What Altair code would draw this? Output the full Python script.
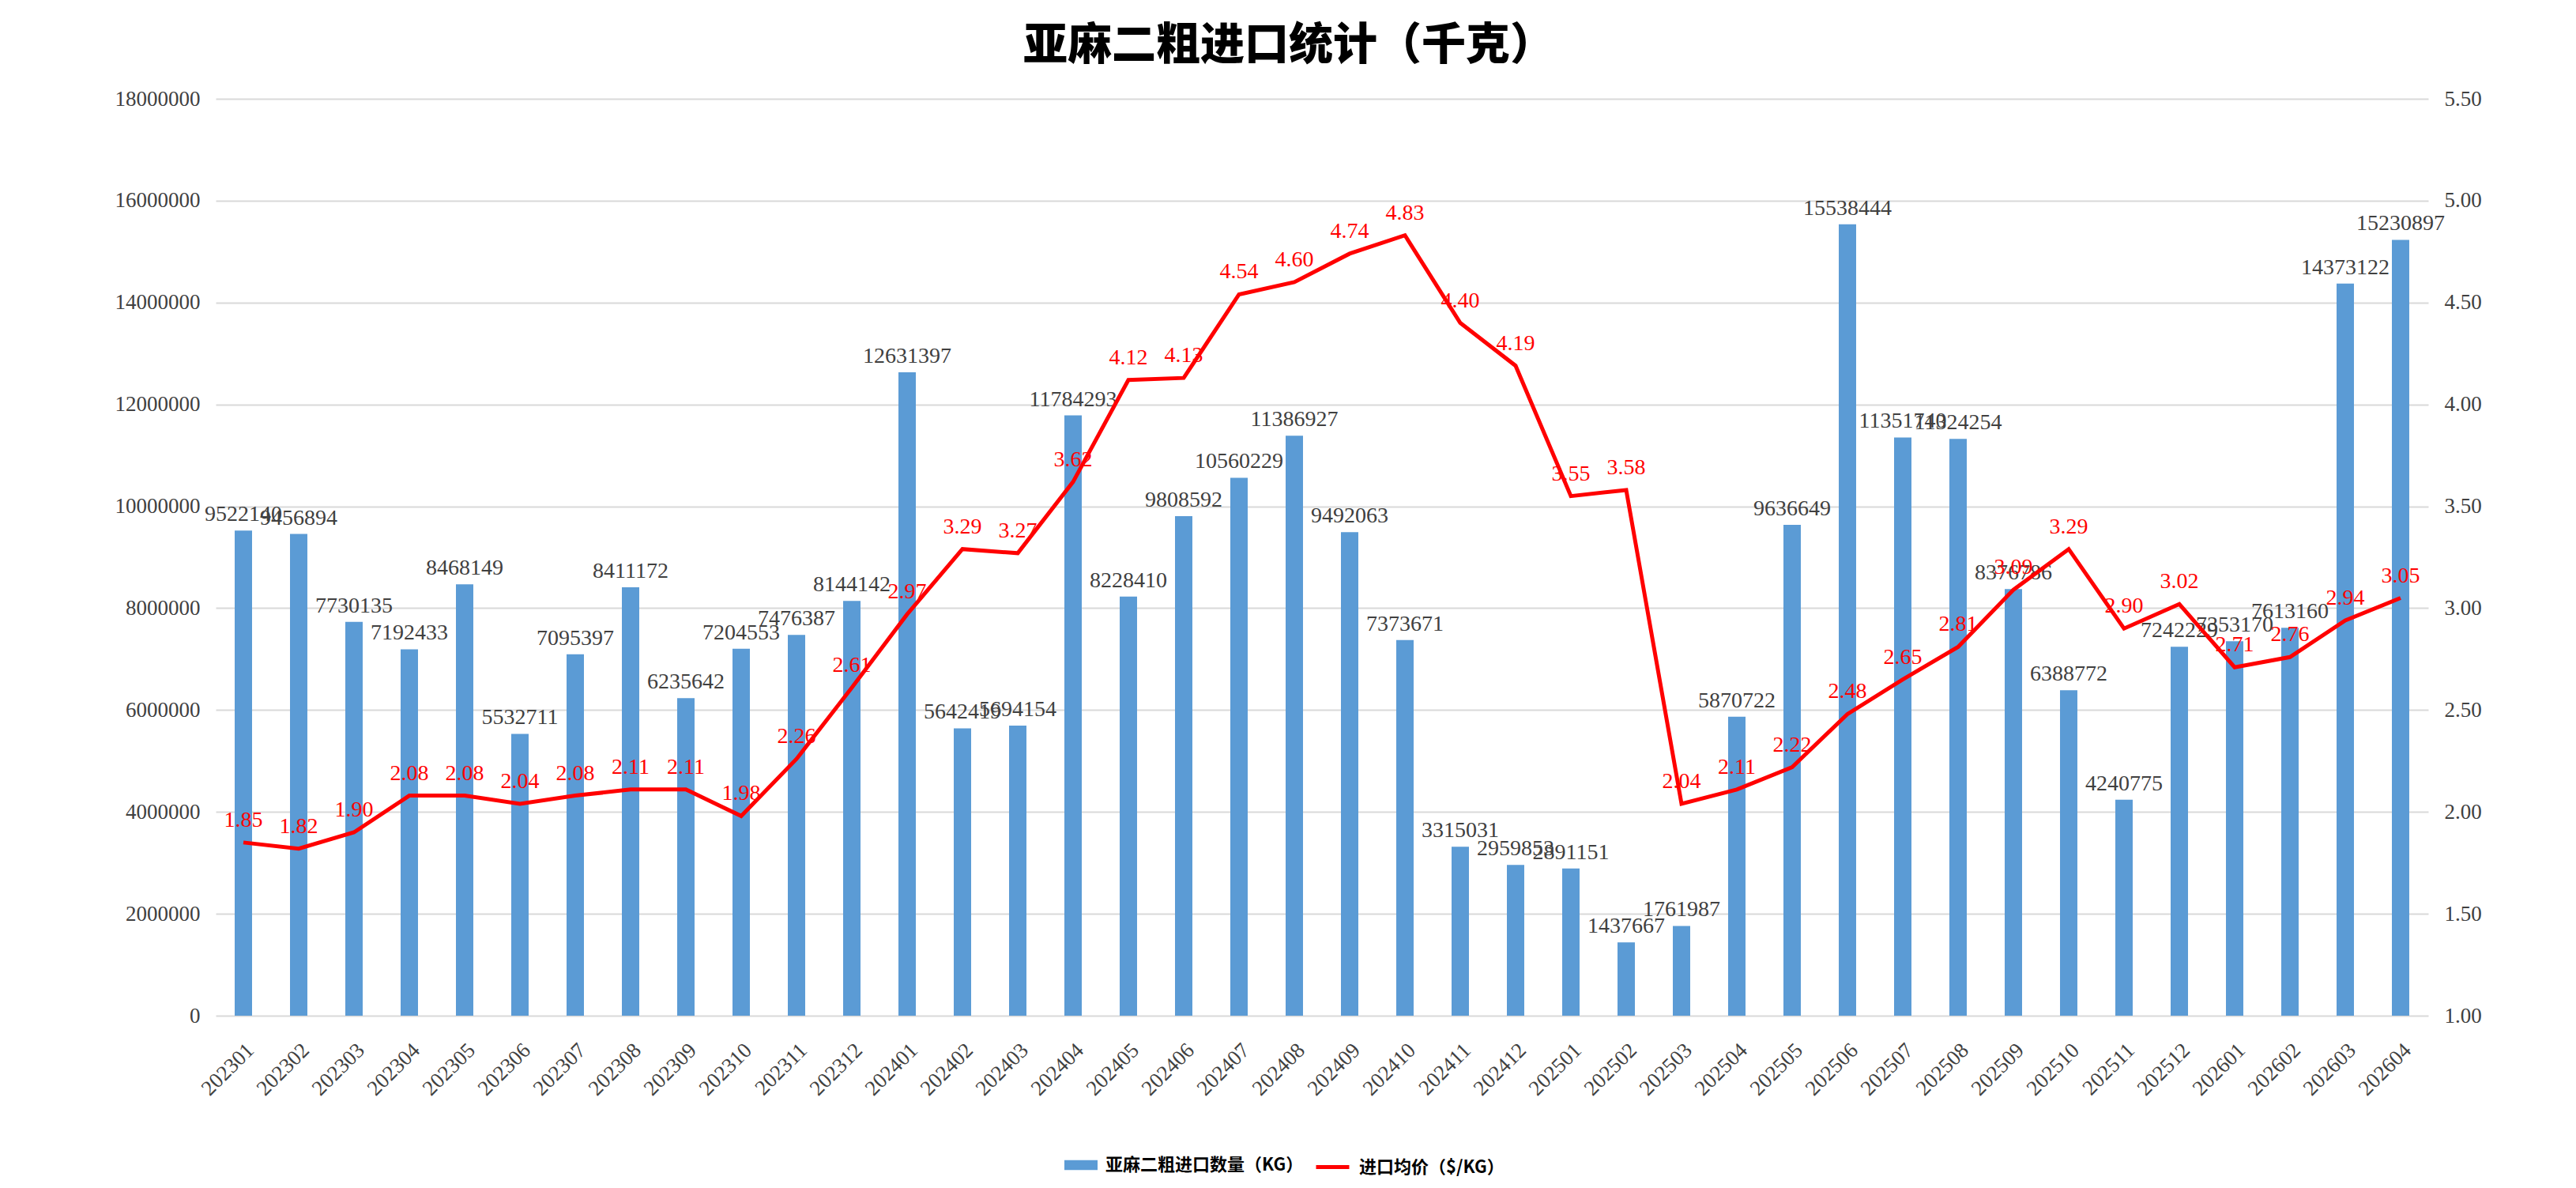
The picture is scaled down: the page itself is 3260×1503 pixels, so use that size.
import altair as alt
import pandas as pd

months = [
    "202301", "202302", "202303", "202304", "202305", "202306", "202307", "202308",
    "202309", "202310", "202311", "202312", "202401", "202402", "202403", "202404",
    "202405", "202406", "202407", "202408", "202409", "202410", "202411", "202412",
    "202501", "202502", "202503", "202504", "202505", "202506", "202507", "202508",
    "202509", "202510", "202511", "202512", "202601", "202602", "202603", "202604",
]
quantity = [
    9522140, 9456894, 7730135, 7192433, 8468149, 5532711, 7095397, 8411172,
    6235642, 7204553, 7476387, 8144142, 12631397, 5642419, 5694154, 11784293,
    8228410, 9808592, 10560229, 11386927, 9492063, 7373671, 3315031, 2959853,
    2891151, 1437667, 1761987, 5870722, 9636649, 15538444, 11351740, 11324254,
    8376786, 6388772, 4240775, 7242229, 7353170, 7613160, 14373122, 15230897,
]
price = [
    1.85, 1.82, 1.90, 2.08, 2.08, 2.04, 2.08, 2.11,
    2.11, 1.98, 2.26, 2.61, 2.97, 3.29, 3.27, 3.62,
    4.12, 4.13, 4.54, 4.60, 4.74, 4.83, 4.40, 4.19,
    3.55, 3.58, 2.04, 2.11, 2.22, 2.48, 2.65, 2.81,
    3.09, 3.29, 2.90, 3.02, 2.71, 2.76, 2.94, 3.05,
]
qty_ticks = [0, 2000000, 4000000, 6000000, 8000000, 10000000, 12000000, 14000000, 16000000, 18000000]
price_ticks = [1.00, 1.50, 2.00, 2.50, 3.00, 3.50, 4.00, 4.50, 5.00, 5.50]

qty_name = "亚麻二粗进口数量（KG）"
price_name = "进口均价（$/KG）"

df = pd.DataFrame({"month": months, "quantity": quantity, "price": price})
df["qty_series"] = qty_name
df["price_series"] = price_name

num_font = "Liberation Serif"
cjk_font = "Noto Sans CJK SC"

x = alt.X(
    "month:N", sort=months, title=None,
    scale=alt.Scale(paddingInner=0.686, paddingOuter=0.343),
    axis=alt.Axis(labelAngle=-45, labelFont=num_font, labelFontSize=27, labelColor="#404040",
                  domain=False, ticks=False, labelPadding=30),
)
y_qty = alt.Y(
    "quantity:Q", title=None,
    scale=alt.Scale(domain=[0, 18000000], nice=False),
    axis=alt.Axis(values=qty_ticks, format="d", grid=True, gridColor="#D9D9D9", gridWidth=2,
                  domain=False, ticks=False, labelFont=num_font, labelFontSize=27,
                  labelColor="#404040", labelPadding=20),
)
y_price = alt.Y(
    "price:Q", title=None,
    scale=alt.Scale(domain=[1, 5.5], nice=False, zero=False),
    axis=alt.Axis(orient="right", values=price_ticks, format=".2f", grid=False,
                  domain=False, ticks=False, labelFont=num_font, labelFontSize=27,
                  labelColor="#404040", labelPadding=20),
)

legend_common = dict(title=None, orient="none", labelFont=cjk_font, labelFontWeight="bold",
                     labelFontSize=22, labelColor="#000000", symbolSize=1764, labelOffset=10,
                     labelLimit=0)

base = alt.Chart(df)

bars = base.mark_bar().encode(
    x=x, y=y_qty,
    fill=alt.Fill("qty_series:N",
                  scale=alt.Scale(domain=[qty_name], range=["#5B9BD5"]),
                  legend=alt.Legend(symbolType="M-1,-0.3H1V0.3H-1Z", legendX=1074, legendY=1328,
                                    symbolStrokeWidth=0, **legend_common)),
)
bar_text = base.mark_text(baseline="bottom", dy=-6, font=num_font, fontSize=28, color="#404040").encode(
    x=x, y=y_qty, text=alt.Text("quantity:Q", format="d"),
)

line = base.mark_line(strokeWidth=5).encode(
    x=x, y=y_price,
    stroke=alt.Stroke("price_series:N",
                      scale=alt.Scale(domain=[price_name], range=["#FF0000"]),
                      legend=alt.Legend(symbolType="stroke", symbolStrokeWidth=5,
                                        legendX=1390, legendY=1328, **legend_common)),
)
line_text = base.mark_text(baseline="bottom", dy=-14, font=num_font, fontSize=28, color="#FF0000").encode(
    x=x, y=y_price, text=alt.Text("price:Q", format=".2f"),
)

chart = alt.layer(
    alt.layer(bars, bar_text),
    alt.layer(line, line_text),
).resolve_scale(
    y="independent"
).properties(
    width=2800,
    height=1160,
    padding={"left": 265, "top": 117, "right": 179, "bottom": 210},
    autosize=alt.AutoSizeParams(type="none"),
    title=alt.TitleParams("亚麻二粗进口统计（千克）", font=cjk_font, fontSize=56, fontWeight=900,
                          color="#000000", anchor="middle", offset=24, dx=-42),
).configure_view(stroke=None)

chart.save("out.html", embed_options={"renderer": "svg", "actions": False})
